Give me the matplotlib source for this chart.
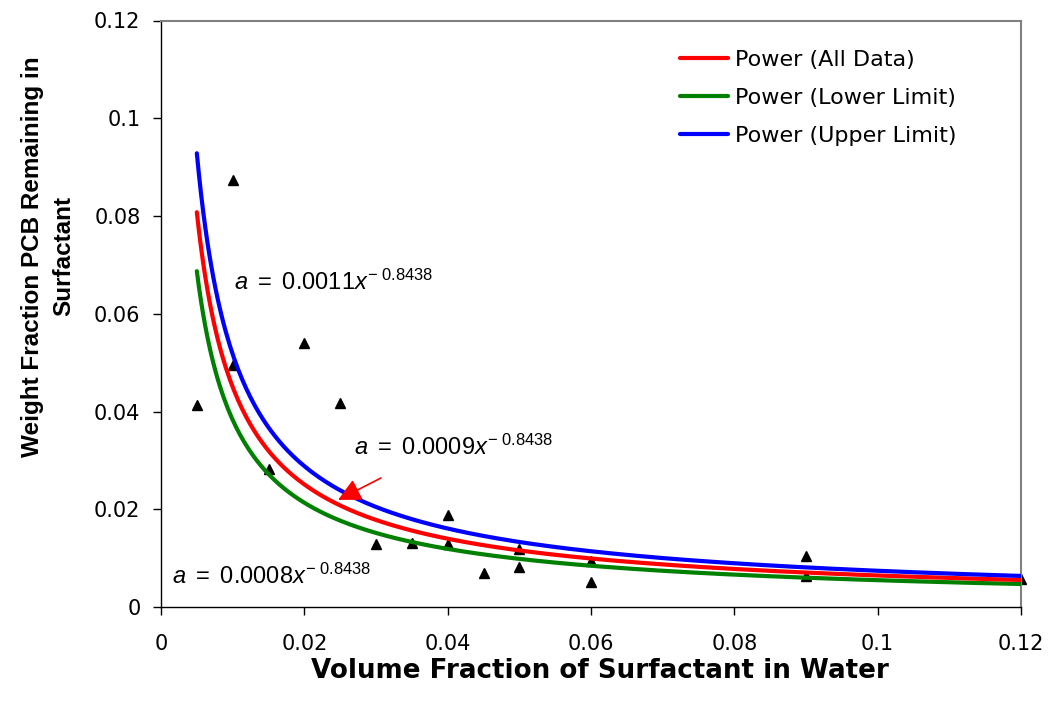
import numpy as np
import matplotlib
matplotlib.use("Agg")
import matplotlib.pyplot as plt
from matplotlib.lines import Line2D

plt.rcParams["font.family"] = ["DejaVu Sans"]
plt.rcParams["mathtext.fontset"] = "custom"
plt.rcParams["mathtext.rm"] = "Liberation Sans"
plt.rcParams["mathtext.it"] = "Liberation Sans:italic"

# Observed data points
x_obs = [0.005, 0.01, 0.01, 0.015, 0.02, 0.025, 0.03, 0.035, 0.04, 0.04,
         0.045, 0.05, 0.05, 0.06, 0.06, 0.09, 0.09, 0.12]
y_obs = [0.0414, 0.0873, 0.0495, 0.0282, 0.0541, 0.0417, 0.0128, 0.0131,
         0.0188, 0.0128, 0.0070, 0.0082, 0.0119, 0.0052, 0.0094, 0.0104,
         0.0063, 0.0057]

# Power-law trendlines  a = c * x^p
fit_names = ["Power (All Data)", "Power (Lower Limit)", "Power (Upper Limit)"]
fit_coefs = [0.000924, 0.000786, 0.001062]
fit_exponent = -0.8438
fit_colors = ["#ff0000", "#008000", "#0000ff"]
fit_range = [0.005, 0.12]

x_ticks = [0, 0.02, 0.04, 0.06, 0.08, 0.1, 0.12]
x_tick_labels = ["0", "0.02", "0.04", "0.06", "0.08", "0.1", "0.12"]
y_ticks = [0, 0.02, 0.04, 0.06, 0.08, 0.1, 0.12]
y_tick_labels = ["0", "0.02", "0.04", "0.06", "0.08", "0.1", "0.12"]

fig = plt.figure(figsize=(10.49, 7.04), dpi=100)
ax = fig.add_axes([161 / 1049, 1 - 607 / 704, 860 / 1049, 586.5 / 704])

ax.plot(x_obs, y_obs, linestyle="none", marker="^", markersize=6.5,
        color="black", zorder=2, clip_on=False)

xx = np.linspace(fit_range[0], fit_range[1], 400)
handles = [Line2D([], [], color=col, lw=3, solid_capstyle="round", label=name)
           for name, col in zip(fit_names, fit_colors)]
for i in [1, 0, 2]:
    ax.plot(xx, fit_coefs[i] * xx ** fit_exponent, color=fit_colors[i],
            lw=3, zorder=3, solid_capstyle="round")

ax.set_xlim(0, 0.12)
ax.set_ylim(0, 0.12)
ax.set_xticks(x_ticks)
ax.set_xticklabels(x_tick_labels)
ax.set_yticks(y_ticks)
ax.set_yticklabels(y_tick_labels)
ax.tick_params(direction="out", length=5.8, width=1, labelsize=15, color="black")
ax.tick_params(axis="x", pad=14)
ax.tick_params(axis="y", pad=9)

for side in ("top", "right"):
    ax.spines[side].set_color("#808080")
    ax.spines[side].set_linewidth(1.5)
for side in ("left", "bottom"):
    ax.spines[side].set_color("black")
    ax.spines[side].set_linewidth(1)

ax.set_xlabel("Volume Fraction of Surfactant in Water", fontsize=18.8,
              fontweight="bold", va="baseline")
ax.xaxis.set_label_coords(0.51, -0.121)
ax.set_ylabel("Weight Fraction PCB Remaining in\nSurfactant", fontsize=17.5,
              fontweight="bold", linespacing=1.45, family="Liberation Sans")
ax.yaxis.set_label_coords(-0.100, 0.598)


def eq_label(c):
    return r"$a\ =\ %s x^{-\ %s}$" % (f"{c:.4f}", f"{-fit_exponent:.4f}")


for (tx, ty), c in zip([(0.01013, 0.0648), (0.0269, 0.0311), (0.0016, 0.0048)],
                       [fit_coefs[2], fit_coefs[0], fit_coefs[1]]):
    ax.text(tx, ty, eq_label(c), fontsize=17, va="baseline", ha="left",
            family="Liberation Sans")

ax.annotate("", xy=(0.0247, 0.0219), xytext=(0.0307, 0.0264),
            arrowprops=dict(arrowstyle="-|>,head_length=0.7,head_width=0.35",
                            mutation_scale=20, color="#ff0000", lw=1.2,
                            shrinkA=0, shrinkB=0), zorder=5)

fig.legend(handles=handles, loc="upper left",
           bbox_to_anchor=(680 / 1049, 1 - 50 / 704), frameon=False,
           fontsize=16, handlelength=2.15, handletextpad=0.32,
           labelspacing=0.8, borderpad=0, borderaxespad=0)

fig.savefig("out.png", dpi=100)
